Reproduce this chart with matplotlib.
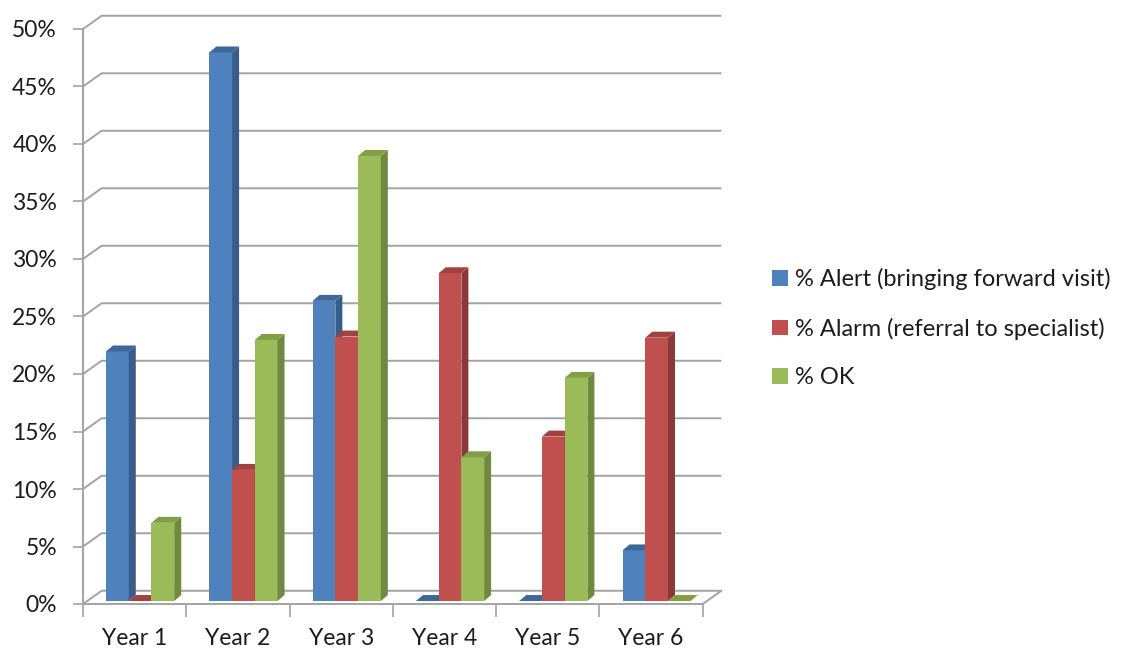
import matplotlib
matplotlib.use('Agg')
import matplotlib.pyplot as plt
from matplotlib.patches import Polygon, Patch
import numpy as np

# ---- data ----
categories = ['Year 1', 'Year 2', 'Year 3', 'Year 4', 'Year 5', 'Year 6']
series_names = ['% Alert (bringing forward visit)',
                '% Alarm (referral to specialist)',
                '% OK']
alert = [21.7, 47.7, 26.1, 0.0, 0.0, 4.4]
alarm = [0.0, 11.4, 23.0, 28.5, 14.3, 22.9]
ok = [6.8, 22.7, 38.7, 12.5, 19.4, 0.0]
y_ticks = [0, 5, 10, 15, 20, 25, 30, 35, 40, 45, 50]
y_tick_labels = ['0%', '5%', '10%', '15%', '20%', '25%', '30%', '35%', '40%', '45%', '50%']

# ---- styles ----
front_colors = ['#4F81BD', '#C0504D', '#9BBB59']
side_colors = ['#385D8A', '#8C3836', '#6F8A3E']
top_colors = ['#3E6899', '#A04340', '#80A046']
grid_color = '#a3a3a3'
text_color = '#1c1c1c'
FONT = 'Lato'
FS = 16.5
LFS = 17

# 3D offsets (in data units)
WDX, WDY = 0.18, 1.15      # back wall offset
BDX, BDY = 0.068, 0.52     # bar depth
BASE = 0.26                # bars sit slightly behind the front edge
BW = 0.22
START = 0.223

plt.rcParams['font.family'] = [FONT, 'DejaVu Sans']

fig = plt.figure(figsize=(11.28, 6.5), dpi=100)
ax = fig.add_axes([83 / 1128, (650 - 609.75) / 650, 645.6 / 1128, 603.75 / 650])
ax.set_xlim(0, 6.25)
ax.set_ylim(-0.5, 52)

n = len(categories)
# gridlines: side wall diagonal + back wall
for yv in y_ticks:
    ax.plot([0, WDX, n + WDX], [yv, yv + WDY, yv + WDY], color=grid_color, lw=1.4,
            zorder=1, solid_capstyle='butt')
# floor right edge
ax.plot([n, n + WDX], [0, WDY], color=grid_color, lw=1.4, zorder=1)

series = [alert, alarm, ok]
x = np.arange(n)
for k, vals in enumerate(series):
    z = 3 + k * 0.1
    bars = ax.bar(x + START + k * BW, vals, width=BW, bottom=BASE, align='edge',
                  color=front_colors[k], zorder=z, linewidth=0)
    for rect in bars:
        x0, y0 = rect.get_x(), rect.get_y()
        w, h = rect.get_width(), rect.get_height()
        y1 = y0 + h
        top = Polygon([(x0, y1), (x0 + w, y1), (x0 + w + BDX, y1 + BDY), (x0 + BDX, y1 + BDY)],
                      closed=True, facecolor=top_colors[k], edgecolor='none', zorder=z + 0.01)
        side = Polygon([(x0 + w, y0), (x0 + w + BDX, y0 + BDY), (x0 + w + BDX, y1 + BDY), (x0 + w, y1)],
                       closed=True, facecolor=side_colors[k], edgecolor='none', zorder=z + 0.01)
        ax.add_patch(side)
        ax.add_patch(top)

# axes
for s in ['top', 'right']:
    ax.spines[s].set_visible(False)
ax.spines['left'].set_bounds(0, 50)
ax.spines['left'].set_color(grid_color)
ax.spines['left'].set_linewidth(1.4)
ax.spines['bottom'].set_position(('data', 0))
ax.spines['bottom'].set_bounds(0, n)
ax.spines['bottom'].set_color(grid_color)
ax.spines['bottom'].set_linewidth(1.4)

ax.set_yticks(y_ticks, y_tick_labels)
ax.tick_params(axis='y', length=7.2, width=1.2, color=grid_color, pad=11.5,
               labelsize=FS, labelcolor=text_color)
ax.set_xticks(x + 0.5, categories)
ax.tick_params(axis='x', which='major', length=0, pad=17, labelsize=FS, labelcolor=text_color)
ax.set_xticks(np.arange(n + 1), minor=True)
ax.tick_params(axis='x', which='minor', length=9, width=1.2, color=grid_color)

handles = [Patch(facecolor=c, edgecolor='none') for c in front_colors]
fig.legend(handles, series_names, loc='center left', bbox_to_anchor=(763 / 1128, 0.495),
           borderaxespad=0, frameon=False, fontsize=LFS, handlelength=0.64, handleheight=0.64,
           handletextpad=0.3, labelspacing=1.16, labelcolor=text_color)

fig.savefig('out.png', dpi=100, facecolor='white')
